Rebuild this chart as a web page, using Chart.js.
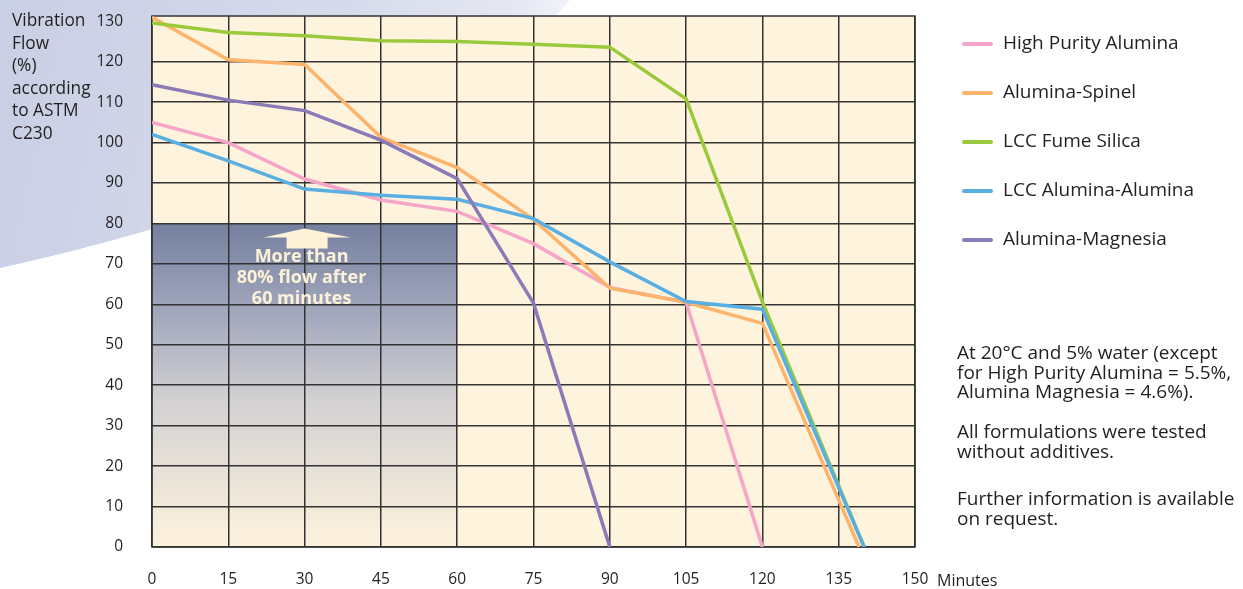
<!DOCTYPE html>
<html>
<head>
<meta charset="utf-8">
<script src="https://cdn.jsdelivr.net/npm/chart.js@4"></script>
<style>
  body { margin: 0; background: #fff; font-family: "Open Sans", sans-serif; color: #231f20; }
  #wrap { position: relative; width: 1243px; height: 589px; overflow: hidden; }
  canvas { position: absolute; left: 0; top: 0; }
  .ytitle { position: absolute; left: 12px; top: 9px; font-size: 17.3px; line-height: 22.6px; }
  .unit { position: absolute; left: 937px; top: 569px; font-size: 16px; }
  .leg { position: absolute; left: 962px; font-size: 19px; white-space: nowrap; }
  .leg span.sw { display: inline-block; width: 31px; height: 3.5px; border-radius: 2px; vertical-align: middle; margin-right: 10px; }
  .note { position: absolute; left: 957px; font-size: 19px; line-height: 19.5px; white-space: nowrap; }
</style>
</head>
<body>
<div id="wrap">
  <canvas id="flow-chart" width="1243" height="589"></canvas>
  <div class="ytitle">Vibration<br>Flow<br>(%)<br>according<br>to ASTM<br>C230</div>
  <div class="unit">Minutes</div>
  <div class="note" style="top:343px">At 20°C and 5% water (except<br>for High Purity Alumina = 5.5%,<br>Alumina Magnesia = 4.6%).</div>
  <div class="note" style="top:422px">All formulations were tested<br>without additives.</div>
  <div class="note" style="top:489px">Further information is available<br>on request.</div>
</div>
<script>
// Datos (minutos / % de flujo)
const seriesNames = ["High Purity Alumina", "Alumina-Spinel", "LCC Fume Silica", "LCC Alumina-Alumina", "Alumina-Magnesia"];
const seriesColors = ["#f5a5c8", "#fcb46d", "#9bc93c", "#5aafe2", "#8a7ab7"];

const highPurityMin = [0, 15, 30, 45, 60, 75, 90, 105, 120];
const highPurityFlow = [105, 100, 91, 85.8, 83, 75, 64.2, 60.5, 0];

const spinelMin = [0, 15, 30, 45, 60, 75, 90, 105, 120, 139];
const spinelFlow = [131, 120.5, 119.3, 101.3, 93.8, 81, 64, 60.5, 55.3, 0];

const silicaMin = [0, 15, 30, 45, 60, 75, 90, 105, 120, 140];
const silicaFlow = [129.6, 127.2, 126.4, 125.2, 125, 124.3, 123.6, 110.8, 60.6, 0];

const alAlMin = [0, 15, 30, 45, 60, 75, 90, 105, 120, 140];
const alAlFlow = [102, 95.5, 88.5, 87, 86, 81.2, 70.5, 60.7, 58.8, 0];

const magnesiaMin = [0, 15, 30, 45, 60, 75, 90];
const magnesiaFlow = [114.3, 110.5, 107.9, 100.6, 91.1, 60.3, 0];

const xTicks = [0, 15, 30, 45, 60, 75, 90, 105, 120, 135, 150];
const yTicks = [0, 10, 20, 30, 40, 50, 60, 70, 80, 90, 100, 110, 120, 130];

// Zona destacada: más del 80% de flujo tras 60 minutos
const boxMinutes = [0, 60];
const boxFlow = [0, 80];
const boxText = ["More than", "80% flow after", "60 minutes"];

const allMin = [highPurityMin, spinelMin, silicaMin, alAlMin, magnesiaMin];
const allFlow = [highPurityFlow, spinelFlow, silicaFlow, alAlFlow, magnesiaFlow];

// Leyenda a la derecha
const legendTop = [42, 91, 140, 189, 238];
seriesNames.forEach((name, i) => {
  const d = document.createElement("div");
  d.className = "leg";
  d.style.top = (legendTop[i] - 13) + "px";
  d.innerHTML = `<span class="sw" style="background:${seriesColors[i]}"></span>${name}`;
  document.getElementById("wrap").appendChild(d);
});

// Fondo, área del gráfico y caja degradada
const backdrop = {
  id: "backdrop",
  beforeDraw(chart) {
    const { ctx, chartArea: a, scales: { x, y } } = chart;
    ctx.save();
    const g = ctx.createLinearGradient(0, 0, 560, 120);
    g.addColorStop(0, "#c9cfe4");
    g.addColorStop(0.6, "#d6dbec");
    g.addColorStop(0.9, "#e6e9f3");
    g.addColorStop(1, "#f6f7fb");
    ctx.fillStyle = g;
    ctx.beginPath();
    ctx.moveTo(0, 0);
    ctx.lineTo(570, 0);
    ctx.quadraticCurveTo(420, 175, 0, 268);
    ctx.closePath();
    ctx.fill();

    ctx.fillStyle = "#fef3dc";
    ctx.fillRect(a.left, a.top, a.width, a.height);

    const bx0 = x.getPixelForValue(boxMinutes[0]);
    const bx1 = x.getPixelForValue(boxMinutes[1]);
    const by0 = y.getPixelForValue(boxFlow[1]);
    const by1 = y.getPixelForValue(boxFlow[0]);
    const bg = ctx.createLinearGradient(0, by0, 0, by1);
    bg.addColorStop(0, "#75809f");
    bg.addColorStop(0.3, "#a6abbf");
    bg.addColorStop(0.55, "#d3d1d2");
    bg.addColorStop(1, "#fdf2dc");
    ctx.fillStyle = bg;
    ctx.fillRect(bx0, by0, bx1 - bx0, by1 - by0);
    ctx.restore();
  },
  beforeDatasetsDraw(chart) {
    const { ctx, chartArea: a, scales: { x, y } } = chart;
    ctx.save();
    ctx.strokeStyle = "#333";
    ctx.lineWidth = 1.5;
    ctx.strokeRect(a.left, a.top, a.width, a.height);

    // flecha y texto
    const cx = x.getPixelForValue(30);
    const top = y.getPixelForValue(boxFlow[1]) + 5;
    ctx.fillStyle = "#fdf2d8";
    ctx.beginPath();
    ctx.moveTo(cx, top);
    ctx.lineTo(cx + 46, top + 9);
    ctx.lineTo(cx + 23, top + 9);
    ctx.lineTo(cx + 23, top + 20);
    ctx.lineTo(cx - 18, top + 20);
    ctx.lineTo(cx - 18, top + 9);
    ctx.lineTo(cx - 41, top + 9);
    ctx.closePath();
    ctx.fill();
    ctx.font = "bold 18px 'Open Sans'";
    ctx.textAlign = "center";
    ctx.textBaseline = "middle";
    boxText.forEach((t, i) => ctx.fillText(t, cx - 3, top + 28 + i * 21));
    ctx.restore();
  },
};

Chart.defaults.font.family = "'Open Sans', sans-serif";
Chart.defaults.color = "#231f20";

const flowCtx = document.getElementById("flow-chart").getContext("2d");
new Chart(flowCtx, {
  type: "line",
  data: {
    datasets: seriesNames.map((name, i) => ({
      label: name,
      data: allMin[i].map((m, j) => ({ x: m, y: allFlow[i][j] })),
      borderColor: seriesColors[i],
      backgroundColor: seriesColors[i],
      borderWidth: 3.5,
      pointRadius: 0,
      fill: false,
      tension: 0,
      order: seriesNames.length - i,
    })),
  },
  options: {
    responsive: false,
    animation: false,
    layout: { padding: { left: 0, right: 328, top: 16, bottom: 0 } },
    plugins: { legend: { display: false }, tooltip: { enabled: false } },
    scales: {
      x: {
        type: "linear",
        min: 0,
        max: 150,
        afterBuildTicks: (s) => { s.ticks = xTicks.map((v) => ({ value: v })); },
        afterFit: (s) => { s.height = 42; s.paddingLeft = 0; s.paddingRight = 0; },
        ticks: { padding: 23, font: { size: 15.5 }, color: "#231f20" },
        grid: { color: "#333", lineWidth: 1.5, drawTicks: false },
        border: { display: false },
      },
      y: {
        min: 0,
        max: 131.3,
        afterBuildTicks: (s) => { s.ticks = yTicks.map((v) => ({ value: v })); },
        afterFit: (s) => { s.width = 152; s.paddingTop = 0; s.paddingBottom = 0; },
        ticks: { padding: 29, font: { size: 15.5 }, color: "#231f20" },
        grid: {
          color: (c) => (c.tick && c.tick.value === 130 ? "rgba(0,0,0,0)" : "#333"),
          lineWidth: 1.5,
          drawTicks: false,
        },
        border: { display: false },
      },
    },
  },
  plugins: [backdrop],
});
</script>
</body>
</html>
